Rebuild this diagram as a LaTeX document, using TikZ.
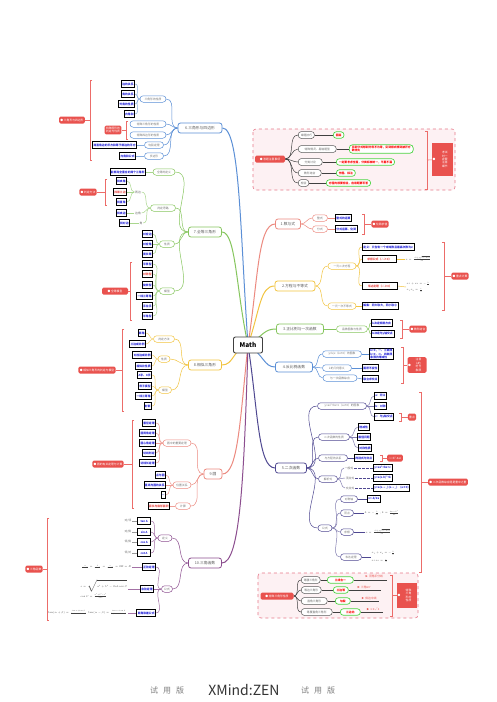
\RequirePackage{fix-cm}
\documentclass[tikz,border=0pt]{standalone}
\usepackage[no-math]{fontspec}
\setmainfont{Noto Sans CJK SC}
\usetikzlibrary{backgrounds}
\definecolor{cblue}{HTML}{5B8FD6}
\definecolor{cgreen}{HTML}{86C65E}
\definecolor{cyellow}{HTML}{F2C440}
\definecolor{csalmon}{HTML}{EC8A80}
\definecolor{cpurple}{HTML}{8C4E8F}
\definecolor{cnavy}{HTML}{4F4891}
\definecolor{cred}{HTML}{E9524E}
\definecolor{cleaf}{HTML}{2B2BD9}
\definecolor{cbub}{HTML}{4DD443}
\definecolor{cpink}{HTML}{FDF1F3}
\definecolor{cdash}{HTML}{E7788A}
\newcommand{\lbrk}[4]{\draw[sumbr] (#1+2,#2) -- (#1,#2) -- (#1,#3) -- (#1+2,#3); \draw[sumbr] (#1,{(#2+#3)/2}) -- (#4);}
\newcommand{\rbrk}[4]{\draw[sumbr] (#1-2,#2) -- (#1,#2) -- (#1,#3) -- (#1-2,#3); \draw[sumbr] (#1,{(#2+#3)/2}) -- (#4);}
\begin{document}
\begin{tikzpicture}[x=1pt,y=-1pt,
  every node/.style={font=\fontsize{2.8}{3.4}\selectfont, inner sep=1.1pt},
  root/.style={draw=black!75, line width=0.9pt, rounded corners=2pt, fill=white, font=\fontsize{6.5}{7}\selectfont\bfseries, minimum width=29pt, minimum height=16pt},
  topic/.style={draw=#1, line width=0.8pt, rounded corners=2.5pt, fill=white, text=black!65, font=\fontsize{3.8}{4.4}\selectfont, inner xsep=2.5pt, minimum height=10pt},
  sub/.style={draw=#1, line width=0.5pt, rounded corners=3.2pt, fill=white, text=black!55, inner xsep=2.5pt, inner ysep=1.2pt, minimum height=6.5pt},
  leaf/.style={draw=black, line width=0.7pt, fill=white, text=cleaf, font=\fontsize{2.8}{3.4}\selectfont\bfseries, minimum height=6.5pt},
  redleaf/.style={leaf, text=cred},
  lbl/.style={text=black!60, inner sep=0.6pt},
  note/.style={fill=cred, text=white, rounded corners=1.5pt, inner sep=1.4pt, minimum height=7pt, align=center},
  icon/.style={text=white, inner sep=0.5pt, anchor=west},
  gpill/.style={draw=black!65, line width=0.5pt, rounded corners=3.2pt, fill=white, text=black!60, inner xsep=2.5pt, minimum height=7pt},
  bub/.style={draw=cbub, line width=0.7pt, rounded corners=3pt, fill=white, text=red, font=\fontsize{2.8}{3.4}\selectfont\bfseries, inner xsep=2.5pt, minimum height=6.5pt, align=left},
  rtxt/.style={text=cred, inner sep=0.5pt},
  fml/.style={text=black!75, font=\fontsize{2.6}{3.2}\selectfont, inner sep=0.5pt, align=left},
  wd/.style={minimum width=#1pt},
  link/.style={draw=#1, line width=0.5pt},
  trunk/.style={draw=#1, line width=1pt},
  sumbr/.style={draw=cred!85, line width=0.6pt},
  dashbox/.style={draw=cdash, fill=cpink, dashed, line width=0.6pt, rounded corners=3pt}
]
\useasboundingbox (0,0) rectangle (497,702);
\node[root] (math) at (248,345) {Math};

\node[topic=cblue, wd=44] (t6) at (200,128) {6.三角形与四边形};
\node[sub=cblue, wd=26] (c61) at (153,99) {三角形的性质};
\node[sub=cblue, wd=36] (c62) at (148,124) {特殊三角形的性质};
\node[sub=cblue, wd=36] (c63) at (148,135) {特殊四边形的性质};
\node[sub=cblue, wd=19] (c64) at (154,145) {勾股定理};
\node[sub=cblue, wd=19] (c65) at (154,156) {多边形};
\node[leaf, anchor=east] (l611) at (135,84) {边的关系};
\node[leaf, anchor=east] (l612) at (135,94) {角的关系};
\node[leaf, anchor=east] (l613) at (135,104) {外角的性质};
\node[leaf, anchor=east] (l614) at (135,114) {内角和};
\node[leaf, anchor=east] (l64) at (137,145) {两直角边的平方和等于斜边的平方};
\node[leaf, anchor=east] (l65) at (136,156) {内角和公式};
\node[note] (n6a) at (113,130) {特殊图形的\\判定与性质};
\node[note] (n6) at (72,120) {● 三角形与四边形};

\node[topic=cgreen, wd=33] (t7) at (205,232) {7.全等三角形};
\node[sub=cgreen, wd=22] (c71) at (164,172) {全等的定义};
\node[sub=cgreen, wd=25] (c72) at (163,208) {判定思路};
\node[sub=cgreen, wd=15] (c73) at (167,244) {性质};
\node[sub=cgreen, wd=15] (c74) at (167,291) {模型};
\node[leaf, anchor=east] (l71) at (146,172) {能够完全重合的两个三角形};
\node[lbl] (b721) at (138,192) {两边};
\node[lbl] (b722) at (138,213) {边角};
\node[lbl] (b723) at (141,223) {角};
\node[leaf, anchor=east] (l7211) at (127,181) {找夹角};
\node[redleaf, anchor=east] (l7212) at (127,192) {找第三边};
\node[leaf, anchor=east] (l7213) at (127,202) {找直角};
\node[leaf, anchor=east] (l7221) at (127,213) {找夹边};
\node[leaf, anchor=east] (l7231) at (130,223) {找对边};
\node[note] (n7a) at (88,192) {● 判定方法};
\node[leaf, anchor=east] (l731) at (153,234) {对应边};
\node[leaf, anchor=east] (l732) at (153,244) {对应角};
\node[leaf, anchor=east] (l733) at (153,254) {周长等};
\node[leaf, anchor=east] (l741) at (153,264) {平移型};
\node[redleaf, anchor=east] (l742) at (153,274) {对称型};
\node[leaf, anchor=east] (l743) at (153,285) {旋转型};
\node[leaf, anchor=east] (l744) at (153,296) {一线三等角};
\node[leaf, anchor=east] (l745) at (153,306) {手拉手};
\node[leaf, anchor=east] (l746) at (153,316) {半角型};
\node[note, wd=26] (n7) at (115,291) {● 全等模型};

\node[topic=cyellow, wd=33] (t8) at (205,365) {8.相似三角形};
\node[sub=cyellow, wd=21] (c81) at (164,339) {判定方法};
\node[sub=cyellow, wd=12] (c82) at (164,359) {性质};
\node[sub=cyellow, wd=13] (c83) at (165,390) {模型};
\node[leaf, anchor=east] (l811) at (146,333) {两角};
\node[leaf, anchor=east] (l812) at (146,344) {三边成比例};
\node[leaf, anchor=east] (l821) at (152,355) {对应边成比例};
\node[leaf, anchor=east] (l822) at (152,366) {相似比性质};
\node[leaf, anchor=east] (l831) at (152,375) {A字、8字};
\node[leaf, anchor=east] (l832) at (152,386) {母子模型};
\node[leaf, anchor=east] (l833) at (152,396) {一线三等角};
\node[leaf, anchor=east] (l834) at (152,406) {射影};
\node[note] (n8) at (97,370) {● 相似三角形的判定与模型};

\node[topic=csalmon, wd=18] (t9) at (213,474) {9.圆};
\node[sub=csalmon, wd=28] (c91) at (177,443) {圆中的重要定理};
\node[sub=csalmon, wd=18] (c92) at (182,485) {位置关系};
\node[sub=csalmon, wd=15] (c93) at (183,506) {计算};
\node[leaf, anchor=east] (l911) at (156,423) {垂径定理};
\node[leaf, anchor=east] (l912) at (156,433) {圆周角定理};
\node[leaf, anchor=east] (l913) at (156,443) {圆心角定理};
\node[leaf, anchor=east] (l914) at (156,453) {切线判定};
\node[leaf, anchor=east] (l915) at (156,463) {切线长定理};
\node[leaf, anchor=east] (l921) at (166,475) {点与圆};
\node[leaf, anchor=east] (l922) at (166,485) {直线与圆的关系};
\node[leaf, anchor=east] (l923) at (166,495) {—};
\node[redleaf, anchor=east] (l931) at (170,506) {弧长与扇形面积};
\node[note] (n9) at (108,464) {● 圆的有关定理与计算};

\node[topic=cpurple, wd=33] (t10) at (205,563) {10.三角函数};
\node[sub=cpurple, wd=14] (c101) at (165,538) {定义};
\node[sub=cpurple, wd=11] (c102) at (167,589) {公式};
\node[leaf, anchor=east, wd=13] (l1011) at (151,521) {tan A};
\node[leaf, anchor=east, wd=13] (l1012) at (151,532) {sin A};
\node[leaf, anchor=east, wd=13] (l1013) at (151,542) {cos A};
\node[leaf, anchor=east, wd=13] (l1014) at (151,553) {cot A};
\node[lbl, anchor=east] (b1011) at (132,521) {对/邻};
\node[lbl, anchor=east] (b1012) at (132,532) {对/斜};
\node[lbl, anchor=east] (b1013) at (132,542) {邻/斜};
\node[lbl, anchor=east] (b1014) at (132,553) {邻/对};
\node[leaf, anchor=east] (l1021) at (156,567) {正弦定理};
\node[leaf, anchor=east] (l1022) at (154,589) {余弦定理};
\node[leaf, anchor=east] (l1023) at (156,613) {两角和差公式};
\node[fml, anchor=east] (f1021) at (132,567) {$\frac{a}{\sin A}=\frac{b}{\sin B}=\frac{c}{\sin C}=2R=D$};
\node[fml, anchor=east] (f1022) at (128,589) {$c=\sqrt{a^2+b^2-2ab\cos C}$\\[1pt]$\cos C=\frac{a^2+b^2-c^2}{2ab}$};
\node[fml, anchor=east] (f1023) at (128,613) {$\tan(\alpha+\beta)=\frac{\tan\alpha+\tan\beta}{1-\tan\alpha\tan\beta}$\ \ $\tan(\alpha-\beta)=\frac{\tan\alpha-\tan\beta}{1+\tan\alpha\tan\beta}$};
\node[note] (n10) at (34,569) {● 三角函数};

\node[topic=csalmon, wd=25] (t1) at (288,224) {1.数与式};
\node[sub=csalmon, wd=15] (c11) at (320,218) {整式};
\node[sub=csalmon, wd=15] (c12) at (320,229) {分式};
\node[leaf, anchor=west] (l11) at (335,218) {整式的运算};
\node[leaf, anchor=west] (l12) at (335,229) {分式运算、化简};
\node[note] (n1) at (380,224) {● 化简求值};

\node[topic=cyellow, wd=40] (t2) at (295,286) {2.方程与不等式};
\node[sub=cyellow, wd=28] (c21) at (342,266) {一元二次方程};
\node[sub=cyellow, wd=28] (c22) at (342,306) {一元一次不等式};
\node[leaf, anchor=west] (l211) at (362,247) {定义：只含有一个未知数且最高次数为2};
\node[redleaf, anchor=west, wd=34] (l212) at (362,259) {求根公式（△≥0）};
\node[redleaf, anchor=west, wd=35] (l213) at (362,286) {韦达定理（△≥0）};
\node[leaf, anchor=west] (l221) at (362,306) {解集：同大取大，同小取小};
\node[fml, anchor=west] (f212) at (405,259) {$x=\frac{-b\pm\sqrt{b^2-4ac}}{2a}$};
\node[fml, anchor=west] (f213) at (406,287) {$x_1+x_2=-\frac{b}{a}$\\[2pt]$x_1x_2=\frac{c}{a}$};
\node[note] (n2) at (460,276) {● 重点计算};

\node[topic=cgreen, wd=47] (t3) at (300,329) {3.正比例与一次函数};
\node[sub=cgreen, wd=31] (c31) at (352,329) {函数图象与性质};
\node[leaf, anchor=west] (l311) at (371,323) {k决定倾斜方向};
\node[leaf, anchor=west] (l312) at (371,334) {b决定与y轴交点};
\node[note] (n3) at (418,329) {● 数形结合};

\node[topic=cblue, wd=37] (t4) at (294,367) {4.反比例函数};
\node[sub=cblue, wd=39] (c41) at (342,354) {y=k/x（k≠0）的图象};
\node[sub=cblue, wd=29] (c42) at (337,368) {k的几何意义};
\node[sub=cblue, wd=34] (c43) at (340,378) {与一次函数综合};
\node[leaf, anchor=west, align=left] (l41) at (369,354) {k>0，一、三象限\\k<0，二、四象限\\象限内增减性};
\node[leaf, anchor=west] (l42) at (362,368) {面积不变性};
\node[leaf, anchor=west] (l43) at (362,379) {联立求交点};
\node[note, minimum width=19pt, text width=9pt, inner xsep=5pt] (n4) at (417,365) {\hspace*{3pt}注意\\\hspace*{3pt}k的\\\hspace*{3pt}符号\\\hspace*{3pt}象限};
\node[icon] (n4i) at (n4.west) {●};

\node[topic=cnavy, wd=31] (t5) at (291,468) {5.二次函数};
\node[sub=cnavy, wd=49] (c51) at (342,406) {y=ax²+bx+c（a≠0）的图象};
\node[sub=cnavy, wd=31] (c52) at (334,437) {二次函数的性质};
\node[sub=cnavy, wd=29] (c53) at (333,458) {与方程的关系};
\node[sub=cnavy, wd=19] (c54) at (328,479) {解析式};
\node[sub=cnavy, wd=14] (c55) at (325,528) {公式};
\node[leaf, anchor=west] (l511) at (374,396) {a：开口};
\node[leaf, anchor=west] (l512) at (374,406) {b：对称};
\node[leaf, anchor=west] (l513) at (374,417) {c：与y轴交点};
\node[note] (n51) at (412,417) {重点};
\node[leaf, anchor=west] (l521) at (358,427) {增减性};
\node[leaf, anchor=west] (l522) at (357,437) {最值问题};
\node[leaf, anchor=west] (l523) at (358,448) {对称性质};
\node[leaf, anchor=west] (l531) at (354,458) {判别式与交点};
\node[note] (n53) at (395,458) {△=b²-4ac};
\node[lbl] (b541) at (349,468) {一般式};
\node[lbl] (b542) at (350,478) {顶点式};
\node[lbl] (b543) at (350,488) {交点式};
\node[leaf, anchor=west] (l541) at (373,468) {y=ax²+bx+c};
\node[leaf, anchor=west] (l542) at (373,478) {y=a(x-h)²+k};
\node[leaf, anchor=west] (l543) at (373,488) {y=a(x-$x_1$)(x-$x_2$)\quad(a≠0)};
\node[sub=cnavy, wd=17] (s551) at (349,499) {对称轴};
\node[sub=cnavy, wd=13] (s552) at (347,513) {顶点};
\node[sub=cnavy, wd=13] (s553) at (347,532) {求根};
\node[sub=cnavy, wd=21] (s554) at (351,557) {韦达定理};
\node[leaf, anchor=west] (l551) at (367,499) {x=-b/2a};
\node[fml, anchor=west] (f552) at (364,513) {$h=-\frac{b}{2a},\ k=\frac{4ac-b^2}{4a}$};
\node[fml, anchor=west] (f553) at (365,532) {$x=\frac{-b\pm\sqrt{b^2-4ac}}{2a}$};
\node[fml, anchor=west] (f554) at (371,557) {$x_1+x_2=-\frac{b}{a}$\\[3pt]$x_1x_2=\frac{c}{a}$};
\node[note] (n5) at (448,482) {● 二次函数综合题是重中之重};

\node[note, wd=30] (m1) at (270,159) {● 答题注意事项};
\node[gpill, anchor=west] (p1) at (298,135) {审题技巧};
\node[gpill, anchor=west, wd=38] (p2) at (298,149) {特殊情况、易错题型};
\node[gpill, anchor=west, wd=24] (p3) at (298,162) {分类讨论};
\node[gpill, anchor=west, wd=23] (p4) at (298,173) {数形结合};
\node[gpill, anchor=west] (p5) at (298,183) {检验};
\node[bub, anchor=west] (g1) at (333,135) {圈画};
\node[bub, anchor=west] (g2) at (349,149) {见到分式想到分母不为零，见到根式想到被开方\\数非负};
\node[bub, anchor=west] (g3) at (336,162) {一定要考虑全面，分类标准统一，不重不漏};
\node[bub, anchor=west] (g4) at (336,173) {作图、标注};
\node[bub, anchor=west] (g5) at (326,183) {方程的根要检验，应用题要写答};
\node[note, rounded corners=0pt, minimum width=21pt, minimum height=33pt, text width=9pt, inner xsep=6pt] (r1) at (442.5,159.5) {\hspace*{4pt}考试\\\hspace*{4pt}时一\\\hspace*{4pt}定要\\\hspace*{4pt}注意\\\hspace*{4pt}细节};
\node[icon] (r1i) at (r1.west) {●};

\node[note, wd=33] (m2) at (277,596) {● 特殊三角形性质};
\node[gpill, anchor=west, wd=19] (q1) at (301,580) {等腰三角形};
\node[gpill, anchor=west, wd=20] (q2) at (301,590) {等边三角形};
\node[gpill, anchor=west, wd=26] (q3) at (301,601) {直角三角形};
\node[gpill, anchor=west, wd=31] (q4) at (301,612) {等腰直角三角形};
\node[bub, anchor=west, wd=26] (h1) at (327,580) {三线合一};
\node[bub, anchor=west, wd=15] (h2) at (333,590) {三边等};
\node[bub, anchor=west, wd=15] (h3) at (335,601) {勾股};
\node[bub, anchor=west, wd=20] (h4) at (340,612) {三边比};
\coordinate (e1) at (387,580);
\coordinate (e2) at (381,590);
\coordinate (e3) at (379,601);
\coordinate (e4) at (383,612);
\node[rtxt] (k1) at (376,576) {顶角平分线};
\node[rtxt] (k2) at (366,587) {三角60°};
\node[rtxt] (k3) at (371,598) {斜边中线};
\node[rtxt] (k4) at (375,609) {1:1:√2};
\node[note, rounded corners=0pt, minimum width=20pt, minimum height=25pt, text width=9pt, inner xsep=5.5pt] (r2) at (407,595.5) {\hspace*{3pt}特殊\\\hspace*{3pt}三角\\\hspace*{3pt}形的\\\hspace*{3pt}性质};
\node[icon] (r2i) at (r2.west) {●};

\node[text=black!50, font=\fontsize{8}{9}\selectfont] (tv1) at (167,690) {试\hspace{5pt}用\hspace{5pt}版};
\node[text=black!80, font=\fontsize{14}{15}\selectfont] (xz) at (244,690) {XMind:ZEN};
\node[text=black!50, font=\fontsize{8}{9}\selectfont] (tv2) at (318,690) {试\hspace{5pt}用\hspace{5pt}版};

\begin{pgfonlayer}{background}
\fill[white] (0,0) rectangle (497,702);
\draw[dashbox] (253,129) rectangle (455,190);
\draw[dashbox] (258,573) rectangle (418,618);
\draw[trunk=cblue] (math.center) .. controls (240,230) and (240,128) .. (t6.east);
\draw[trunk=cgreen] (math.center) .. controls (236,290) and (236,232) .. (t7.east);
\draw[trunk=cyellow] (math.center) .. controls (232,350) and (234,365) .. (t8.east);
\draw[trunk=csalmon] (math.center) .. controls (240,420) and (238,474) .. (t9.east);
\draw[trunk=cpurple] (math.center) .. controls (244,480) and (240,563) .. (t10.east);
\draw[trunk=csalmon] (math.center) .. controls (258,280) and (258,224) .. (t1.west);
\draw[trunk=cyellow] (math.center) .. controls (260,310) and (260,286) .. (t2.west);
\draw[trunk=cgreen] (math.center) .. controls (264,335) and (264,329) .. (t3.west);
\draw[trunk=cblue] (math.center) .. controls (264,355) and (264,367) .. (t4.west);
\draw[trunk=cnavy] (math.center) .. controls (258,410) and (258,468) .. (t5.west);

\foreach \c in {c61,c62,c63,c64,c65} \draw[link=cblue] (t6.west) to[out=180,in=0] (\c.east);
\foreach \c in {l611,l612,l613,l614} \draw[link=cblue!70] (c61.west) to[out=180,in=0] (\c.east);
\draw[link=cblue!70] (c64.west) -- (l64.east);
\draw[link=cblue!70] (c65.west) -- (l65.east);

\foreach \c in {c71,c72,c73,c74} \draw[link=cgreen] (t7.west) to[out=180,in=0] (\c.east);
\draw[link=cgreen!70] (c71.west) -- (l71.east);
\foreach \c in {b721,b722,b723} \draw[link=cgreen!70] (c72.west) to[out=180,in=0] (\c.east);
\foreach \c in {l7211,l7212,l7213} \draw[link=cgreen!70] (b721.west) to[out=180,in=0] (\c.east);
\draw[link=cgreen!70] (b722.west) -- (l7221.east);
\draw[link=cgreen!70] (b723.west) -- (l7231.east);
\foreach \c in {l731,l732,l733} \draw[link=cgreen!70] (c73.west) to[out=180,in=0] (\c.east);
\foreach \c in {l741,l742,l743,l744,l745,l746} \draw[link=cgreen!70] (c74.west) to[out=180,in=0] (\c.east);

\foreach \c in {c81,c82,c83} \draw[link=cyellow] (t8.west) to[out=180,in=0] (\c.east);
\foreach \c in {l811,l812} \draw[link=cyellow!80] (c81.west) to[out=180,in=0] (\c.east);
\foreach \c in {l821,l822} \draw[link=cyellow!80] (c82.west) to[out=180,in=0] (\c.east);
\foreach \c in {l831,l832,l833,l834} \draw[link=cyellow!80] (c83.west) to[out=180,in=0] (\c.east);

\foreach \c in {c91,c92,c93} \draw[link=csalmon] (t9.west) to[out=180,in=0] (\c.east);
\foreach \c in {l911,l912,l913,l914,l915} \draw[link=csalmon!80] (c91.west) to[out=180,in=0] (\c.east);
\foreach \c in {l921,l922,l923} \draw[link=csalmon!80] (c92.west) to[out=180,in=0] (\c.east);
\draw[link=csalmon!80] (c93.west) -- (l931.east);

\foreach \c in {c101,c102} \draw[link=cpurple] (t10.west) to[out=180,in=0] (\c.east);
\foreach \c in {l1011,l1012,l1013,l1014} \draw[link=cpurple!80] (c101.west) to[out=180,in=0] (\c.east);
\foreach \c in {l1021,l1022,l1023} \draw[link=cpurple!80] (c102.west) to[out=180,in=0] (\c.east);
\foreach \i in {1,2,3,4} \draw[link=black!40] (l101\i.west) -- (b101\i.east);
\foreach \i in {1,2,3} \draw[link=cpurple!80] (l102\i.west) -- (f102\i.east);

\foreach \c in {c11,c12} \draw[link=csalmon] (t1.east) to[out=0,in=180] (\c.west);
\draw[link=csalmon] (c11.east) -- (l11.west);
\draw[link=csalmon] (c12.east) -- (l12.west);

\foreach \c in {c21,c22} \draw[link=cyellow] (t2.east) to[out=0,in=180] (\c.west);
\foreach \c in {l211,l212,l213} \draw[link=cyellow] (c21.east) to[out=0,in=180] (\c.west);
\draw[link=cyellow] (c22.east) -- (l221.west);
\draw[link=cyellow] (l212.east) -- (f212.west);
\draw[link=cyellow] (l213.east) -- (f213.west);

\draw[link=cgreen] (t3.east) -- (c31.west);
\foreach \c in {l311,l312} \draw[link=cgreen] (c31.east) to[out=0,in=180] (\c.west);

\foreach \c in {c41,c42,c43} \draw[link=cblue] (t4.east) to[out=0,in=180] (\c.west);
\draw[link=cblue] (c41.east) -- (l41.west);
\draw[link=cblue] (c42.east) -- (l42.west);
\draw[link=cblue] (c43.east) -- (l43.west);

\foreach \c in {c51,c52,c53,c54,c55} \draw[link=cnavy] (t5.east) to[out=0,in=180] (\c.west);
\foreach \c in {l511,l512,l513} \draw[link=cnavy!70] (c51.east) to[out=0,in=180] (\c.west);
\foreach \c in {l521,l522,l523} \draw[link=cnavy!70] (c52.east) to[out=0,in=180] (\c.west);
\draw[link=cnavy] (c53.east) -- (l531.west);
\foreach \c in {b541,b542,b543} \draw[link=cnavy!70] (c54.east) to[out=0,in=180] (\c.west);
\foreach \i in {1,2,3} \draw[link=cnavy, dash pattern=on 2.5pt off 1.5pt] (b54\i.east) -- (l54\i.west);
\foreach \c in {s551,s552,s553,s554} \draw[link=cnavy!70] (c55.east) to[out=0,in=180] (\c.west);
\draw[link=cnavy] (s551.east) -- (l551.west);
\draw[link=cnavy] (s552.east) -- (f552.west);
\draw[link=cnavy] (s553.east) -- (f553.west);
\draw[link=cnavy] (s554.east) -- (f554.west);

\foreach \c in {p1,p2,p3,p4,p5} \draw[link=black!75] (m1.east) to[out=0,in=180] (\c.west);
\foreach \i in {1,2,3,4,5} \draw[link=black!75] (p\i.east) -- (g\i.west);
\foreach \c in {q1,q2,q3,q4} \draw[link=black!75] (m2.east) to[out=0,in=180] (\c.west);
\foreach \i in {1,2,3,4} \draw[link=black!75] (q\i.east) -- (h\i.west);
\foreach \i in {1,2,3,4} \draw[link=black!75] (h\i.east) -- (e\i);
\end{pgfonlayer}

\foreach \i in {1,2,3,4} \fill[cred] ([xshift=-0.8pt]k\i.west) -- ++(-2,-1) -- ++(0,2) -- cycle;

\lbrk{126}{121}{139}{n6a}
\lbrk{90}{80}{160}{n6}
\lbrk{105}{179}{205}{n7a}
\lbrk{130}{262}{320}{n7}
\lbrk{122}{329}{411}{n8}
\lbrk{132}{420}{508}{n9}
\lbrk{47}{518}{620}{n10}
\rbrk{364}{214}{234}{n1}
\rbrk{444}{242}{310}{n2}
\rbrk{402}{320}{338}{n3}
\rbrk{403}{347}{383}{n4}
\rbrk{401}{413}{421}{n51}
\rbrk{382}{455}{461}{n53}
\rbrk{421}{392}{572}{n5}
\rbrk{427}{131}{189}{r1}
\rbrk{392}{575}{616}{r2}
\end{tikzpicture}
\end{document}
